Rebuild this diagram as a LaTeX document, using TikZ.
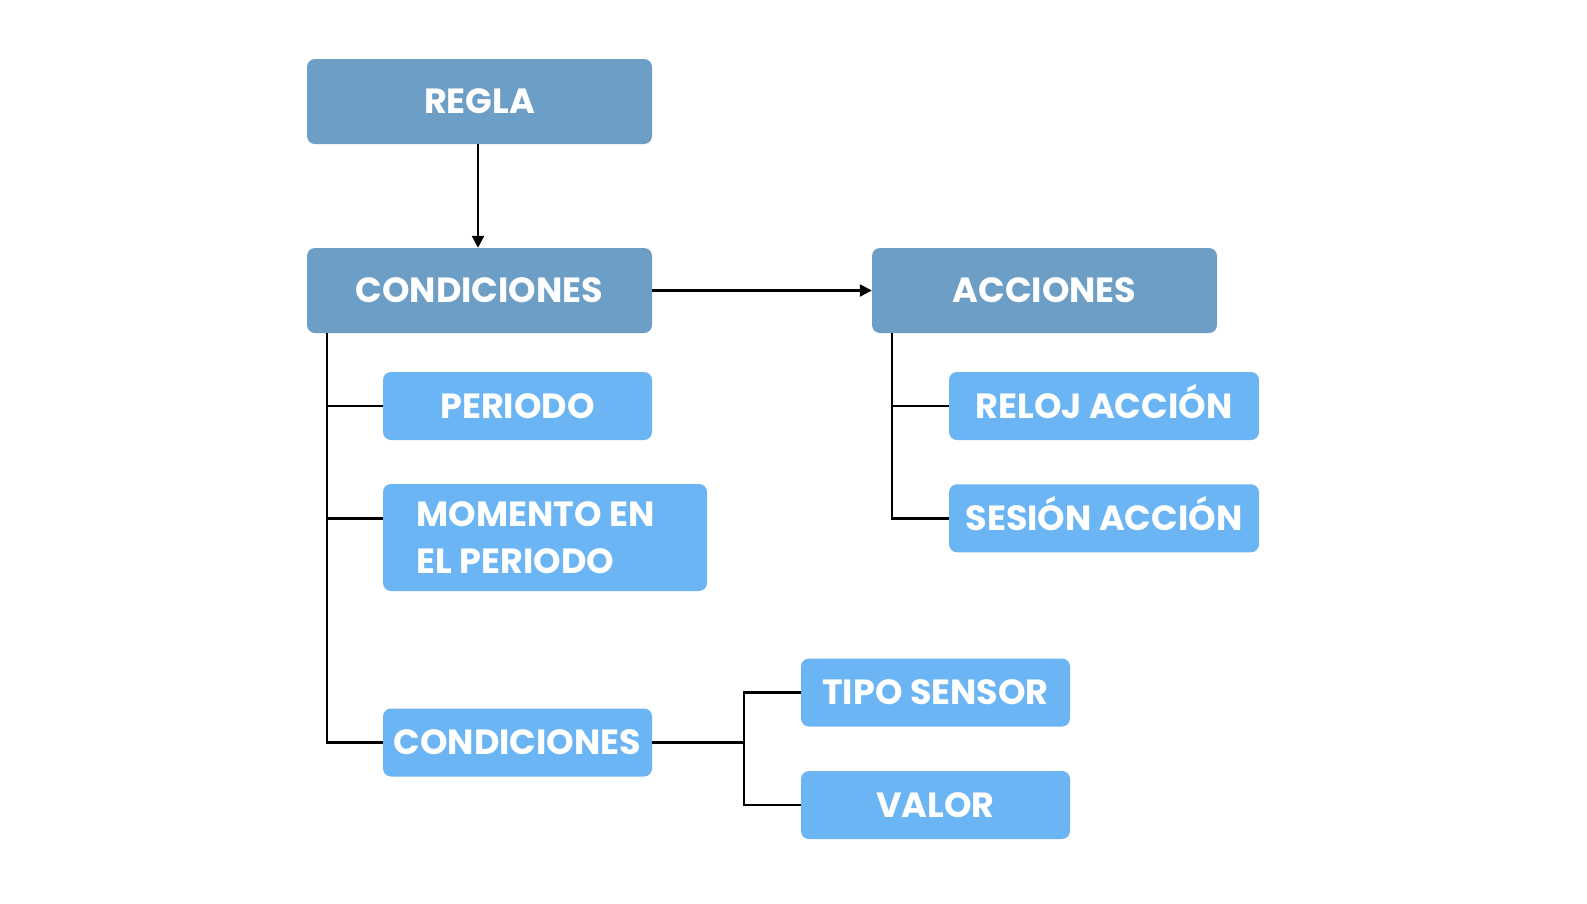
\documentclass[tikz,border=0pt]{standalone}
\usepackage{fontspec}
\setmainfont{Poppins}
\usetikzlibrary{arrows.meta}
\definecolor{darkbox}{RGB}{109,158,198}
\definecolor{lightbox}{RGB}{108,181,244}
\begin{document}
\begin{tikzpicture}[x=1pt,y=-1pt,
  box/.style={rounded corners=8pt, inner sep=0pt, text=white,
    font=\fontsize{35}{46.7}\selectfont\bfseries, align=center,
    text height=24.5pt, text depth=0pt},
  dbox/.style={box, fill=darkbox, minimum width=345pt, minimum height=85pt},
  lbox/.style={box, fill=lightbox, minimum height=68pt},
  link/.style={line width=2.4pt, black},
  arr/.style={link, -{Triangle[length=12pt,width=12pt]}}]
\useasboundingbox (0,0) rectangle (1587,903);
\fill[white] (0,0) rectangle (1587,903);
\node[dbox] (regla) at (479.5,101.5) {REGLA};
\node[dbox] (cond) at (479.5,290.5) {CONDICIONES};
\node[dbox] (acc) at (1044.5,290.5) {ACCIONES};
\node[lbox, minimum width=269pt] (per) at (517.5,406) {PERIODO};
\node[lbox, minimum width=324pt, minimum height=107pt, align=left,
  text height=, text depth=] (mom) at (545,537.5) {MOMENTO EN\hspace*{19pt}\\EL PERIODO};
\node[lbox, minimum width=269pt] (cond2) at (517.5,742.5) {CONDICIONES};
\node[lbox, minimum width=310pt] (reloj) at (1104,406) {RELOJ ACCIÓN};
\node[lbox, minimum width=310pt] (sesion) at (1104,518.3) {SESIÓN ACCIÓN};
\node[lbox, minimum width=269pt] (tipo) at (935.5,692.5) {TIPO SENSOR};
\node[lbox, minimum width=269pt] (valor) at (935.5,805) {VALOR};
\coordinate (ct) at (327,0);
\coordinate (at) at (892,0);
\coordinate (bt) at (744,0);
\coordinate (momy) at (0,518.3);
\draw[arr] (regla.south -| 478,0) -- (cond.north -| 478,0);
\draw[arr] (cond.east) -- (acc.west);
\draw[link] (cond.south -| ct) |- (cond2.west);
\draw[link] (per.west) -- (per.west -| ct);
\draw[link] (mom.west |- momy) -- (ct |- momy);
\draw[link] (acc.south -| at) |- (sesion.west);
\draw[link] (reloj.west) -- (reloj.west -| at);
\draw[link] (cond2.east) -- (cond2.east -| bt);
\draw[link] (tipo.west) -| (bt |- valor.west) -- (valor.west);
\end{tikzpicture}
\end{document}
